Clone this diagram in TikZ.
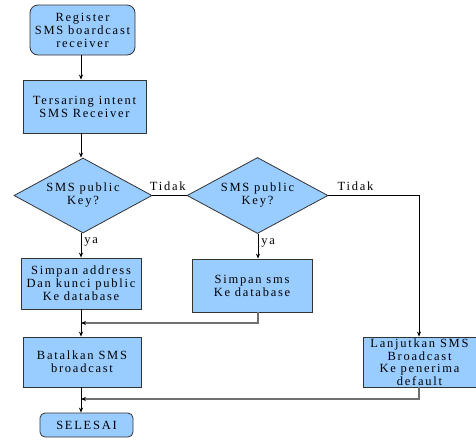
\documentclass[tikz,border=0pt]{standalone}
\usepackage{fontspec}
\setmainfont{Liberation Serif}[LetterSpace=14]
\usetikzlibrary{shapes.geometric,arrows.meta}
\definecolor{boxfill}{HTML}{99CCFF}
\definecolor{boxdraw}{HTML}{333333}
\definecolor{flowgrey}{HTML}{707070}
\tikzset{
  base/.style={draw=boxdraw, fill=boxfill, line width=0.8pt, align=center, inner sep=0pt,
    font=\fontsize{12.5}{13}\selectfont},
  procbox/.style={base, rectangle},
  termbox/.style={base, rectangle, rounded corners=8pt},
  decbox/.style={base, diamond, aspect=1.84},
  flow/.style={draw=black, line width=0.8pt},
  arr/.style={flow, -{Stealth[length=5pt,width=4pt]}},
  garr/.style={draw=flowgrey, line width=1.1pt, -{Stealth[length=5pt,width=4pt,color=black]}},
  lbl/.style={font=\fontsize{12.5}{13}\selectfont, inner sep=0pt}
}
\begin{document}
\begin{tikzpicture}[x=1pt,y=-1pt]
\useasboundingbox (0,0) rectangle (476,440);
\node[termbox, minimum width=105pt, minimum height=50pt] (reg) at (82.5,30) {Register\\SMS boardcast\\receiver};
\node[procbox, minimum width=123pt, minimum height=53pt] (ters) at (84.5,106.5) {Tersaring intent\\SMS Receiver};
\node[decbox, minimum width=138pt, minimum height=75pt] (d1) at (83,195.5) {SMS public\\Key?};
\node[decbox, minimum width=141pt, minimum height=76pt] (d2) at (257.5,195.5) {SMS public\\Key?};
\node[procbox, minimum width=120pt, minimum height=51pt] (sa) at (81,283.5) {Simpan address\\Dan kunci public\\Ke database};
\node[procbox, minimum width=120pt, minimum height=53pt] (ss) at (252,285.5) {Simpan sms\\Ke database};
\node[procbox, minimum width=118pt, minimum height=50pt] (bt) at (82,362) {Batalkan SMS\\broadcast};
\node[procbox, minimum width=113pt, minimum height=50pt, font=\fontsize{12.5}{12.5}\selectfont] (lj) at (419.5,362) {Lanjutkan SMS\\Broadcast\\Ke penerima\\default};
\node[termbox, rounded corners=5pt, minimum width=93pt, minimum height=24pt] (end) at (86.5,425) {SELESAI};

\coordinate (cx) at (81,0);
\coordinate (rx) at (419,0);
\coordinate (m1) at (258,323);
\coordinate (m2) at (419,399);

\draw[arr] (reg.south -| cx) -- (ters.north -| cx);
\draw[arr] (ters.south -| cx) -- (d1.north -| cx);
\draw[arr] (d1.south -| cx) -- node[lbl, right=3pt, pos=0.35] {ya} (sa.north -| cx);
\draw[flow] (d1.east) -- node[lbl, above=4pt, pos=0.45] {Tidak} (d2.west);
\draw[arr] (d2.south -| m1) -- node[lbl, right=3pt, pos=0.35] {ya} (ss.north -| m1);
\draw[arr] (d2.east) -- node[lbl, above=4pt, pos=0.3] {Tidak} (d2.east -| rx) -- (lj.north -| rx);
\draw[arr] (sa.south -| cx) -- (bt.north -| cx);
\draw[garr] (ss.south -| m1) -- (m1) -- (m1 -| cx);
\draw[arr] (bt.south -| cx) -- (end.north -| cx);
\draw[garr] (lj.south -| m2) -- (m2) -- (m2 -| cx);
\end{tikzpicture}
\end{document}
